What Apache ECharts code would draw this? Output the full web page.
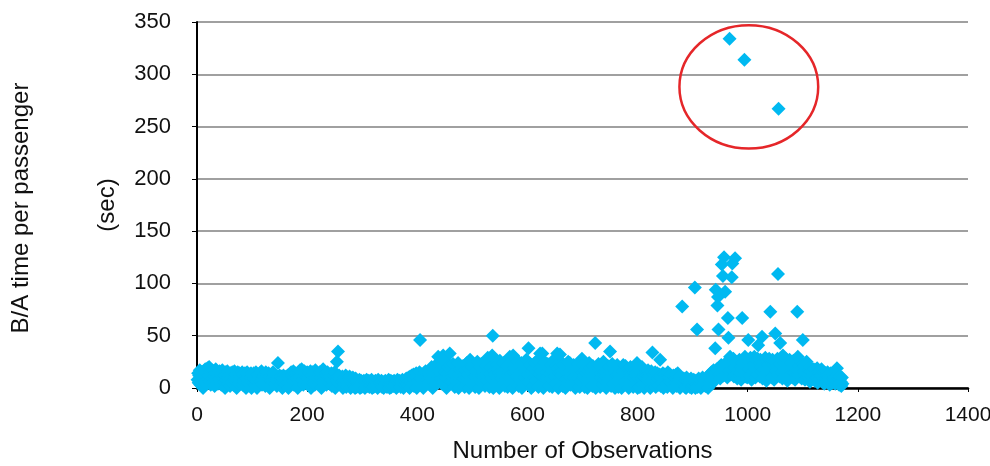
<!DOCTYPE html>
<html>
<head>
<meta charset="utf-8">
<script src="https://cdn.jsdelivr.net/npm/echarts@6/dist/echarts.min.js"></script>
<style>
  html, body { margin: 0; padding: 0; background: #ffffff; }
  #chart { width: 990px; height: 466px; }
</style>
</head>
<body>
<div id="chart"></div>
<script>
// B/A time per passenger (sec), one value per observation, in blocks of 100
const obs0001 = [8,14,5,12,17,3,10,15,7,13,0,16,9,6,18,11,4,14,19,8,
  12,20,6,15,3,13,17,9,5,16,11,2,14,18,7,10,15,4,12,8,
  16,6,13,3,11,17,9,14,5,12,0,15,8,10,16,4,13,7,11,2,
  14,9,5,15,12,3,10,16,6,13,8,0,11,15,4,9,14,7,12,5,
  10,15,3,13,8,6,14,11,0,9,15,5,12,7,13,4,10,14,0,8];
const obs0101 = [12,5,14,9,3,11,15,7,0,13,8,10,4,14,6,12,16,3,9,11,
  5,13,8,2,15,10,6,12,4,14,9,0,11,7,13,3,10,15,6,8,
  12,4,9,11,2,7,24,10,5,12,3,8,11,6,0,9,12,4,7,10,
  3,11,8,5,12,0,9,13,6,10,15,4,12,7,16,3,11,14,8,5,
  13,9,0,15,10,6,17,12,4,18,8,14,3,11,16,7,13,5,10,15];
const obs0201 = [9,4,14,11,6,16,0,12,8,15,5,10,13,3,17,7,11,14,6,9,
  12,4,15,8,10,0,13,16,18,7,11,5,14,9,3,12,15,6,10,13,
  4,11,8,14,2,9,13,6,12,15,0,10,7,25,11,35,5,12,8,10,
  3,9,6,11,0,8,10,4,7,12,1,9,5,10,3,8,11,6,0,9,
  7,4,10,2,6,8,0,9,5,1,7,4,6,2,8,0,5,7,1,6];
const obs0301 = [4,2,7,5,0,6,3,8,2,5,4,7,1,6,3,5,8,0,4,6,
  1,5,3,7,2,6,4,0,8,3,5,2,6,4,7,1,3,5,0,6,
  4,7,2,5,1,6,3,8,4,0,5,7,1,3,6,4,2,7,5,3,
  6,0,4,8,2,5,3,7,4,1,6,3,8,5,0,4,7,3,6,9,
  4,8,2,10,6,0,11,7,5,12,4,9,13,2,8,11,6,14,0,10];
const obs0401 = [7,12,5,15,46,9,3,13,8,11,0,14,6,10,16,4,12,8,13,5,
  10,15,3,12,7,20,9,0,14,11,5,21,8,13,4,15,10,30,6,12,
  16,9,28,13,4,22,31,11,7,15,25,10,0,14,20,8,12,22,33,6,
  13,18,5,11,23,9,14,1,12,21,7,15,10,24,0,13,18,8,11,19,
  6,14,21,9,12,1,17,10,23,24,7,13,18,0,11,27,9,20,12,4];
const obs0501 = [14,8,22,11,1,16,12,6,25,10,15,0,13,20,9,23,5,12,14,8,
  16,11,2,21,13,7,15,29,10,24,1,14,19,9,12,31,50,0,16,11,
  13,20,3,22,10,18,8,14,0,26,12,22,9,16,4,13,24,11,2,15,
  18,9,21,1,12,20,16,30,5,13,25,10,0,31,15,19,8,22,16,4,
  11,26,14,2,20,9,15,13,24,0,17,22,3,16,21,10,14,27,6,13];
const obs0601 = [5,38,15,11,23,22,0,16,13,2,18,10,24,14,7,17,12,26,15,1,
  19,13,33,4,16,11,33,20,0,14,25,3,12,21,15,10,23,7,19,2,
  14,22,9,16,1,18,12,27,11,15,5,21,13,33,19,0,14,21,32,8,
  16,12,24,2,15,22,10,17,0,8,20,14,6,25,11,16,24,3,15,12,
  19,5,14,22,10,21,0,6,16,12,23,9,15,20,1,6,17,13,28,14];
const obs0701 = [10,22,12,1,16,14,20,9,0,17,4,24,11,19,8,12,16,2,21,10,
  17,13,43,0,15,20,11,5,23,12,18,1,14,10,19,3,13,25,7,15,
  11,18,0,14,6,21,12,20,10,35,15,2,13,23,4,11,19,14,0,16,
  12,7,22,13,1,18,5,15,11,19,0,14,16,22,9,13,6,21,12,3,
  15,8,18,0,14,4,20,12,9,19,13,1,15,10,17,3,12,14,24,0];
const obs0801 = [13,10,18,1,12,15,9,20,4,11,14,0,13,10,16,3,12,8,17,11,
  9,14,0,12,16,7,34,11,13,4,10,15,1,12,6,14,9,3,11,13,
  27,2,12,5,10,14,0,9,13,6,11,4,12,1,15,3,10,7,13,9,
  5,11,8,0,12,6,10,4,9,13,2,3,14,8,5,11,0,9,6,4,
  78,7,3,9,5,1,8,0,10,2,6,8,3,7,1,5,9,0,2,6];
const obs0901 = [3,8,5,96,0,7,4,56,1,6,9,3,5,8,0,7,4,10,6,3,
  8,5,2,9,4,7,11,0,6,10,13,5,8,15,4,12,9,17,7,14,
  38,94,11,18,79,87,56,13,20,9,16,22,118,15,107,12,125,19,92,24,
  14,21,10,67,48,17,334,30,13,22,106,119,16,28,11,19,124,25,14,21,
  9,23,17,12,27,15,20,8,18,67,24,13,21,314,30,11,26,19,10,22];
const obs1001 = [46,18,25,12,29,21,8,27,16,23,14,30,19,10,26,22,13,28,41,17,
  24,11,27,20,15,49,9,23,18,26,13,29,21,7,25,16,22,12,28,19,
  73,14,24,10,27,18,22,8,25,52,16,21,13,28,109,267,19,11,43,23,
  15,26,9,31,20,17,24,12,28,14,22,7,19,25,11,27,16,21,13,24,
  10,20,26,15,22,8,18,24,13,73,30,17,21,11,25,14,19,9,23,46];
const obs1101 = [16,12,21,8,18,14,25,22,10,17,13,20,6,15,19,11,16,9,14,18,
  12,7,17,13,10,19,5,15,11,16,8,14,12,18,6,13,10,15,4,11,
  14,9,12,6,15,8,11,13,3,10,14,7,12,5,9,13,8,11,4,10,
  7,19,12,5,9,3,8,11,6,2,10,4];

// Axis ticks
const xTicks = [0, 200, 400, 600, 800, 1000, 1200, 1400];
const yTicks = [0, 50, 100, 150, 200, 250, 300, 350];

// Highlighted region (data units) around the three extreme observations
const highlight = { x: 1002, y: 288, rx: 126, ry: 59 };

const blocks = [obs0001, obs0101, obs0201, obs0301, obs0401, obs0501,
  obs0601, obs0701, obs0801, obs0901, obs1001, obs1101];
const values = [].concat(...blocks);
const points = values.map((v, i) => [i + 1, v]);

const FONT = "'Liberation Sans', Arial, Helvetica, sans-serif";
const chart = echarts.init(document.getElementById('chart'), null, { renderer: 'canvas' });

chart.setOption({
  animation: false,
  backgroundColor: '#ffffff',
  grid: { left: 197, right: 22, top: 22, bottom: 78, containLabel: false, outerBoundsMode: 'none' },
  xAxis: {
    type: 'value',
    min: xTicks[0],
    max: xTicks[xTicks.length - 1],
    interval: xTicks[1] - xTicks[0],
    name: 'Number of Observations',
    nameLocation: 'middle',
    nameGap: 51,
    nameTextStyle: { fontFamily: FONT, fontSize: 24, color: '#111' },
    axisLine: { show: true, onZero: false, lineStyle: { color: '#000', width: 2.5 } },
    axisTick: { show: true, length: 4, lineStyle: { color: '#000', width: 1 } },
    axisLabel: { fontFamily: FONT, fontSize: 21, color: '#111', margin: 17,
      formatter: v => String(v) },
    splitLine: { show: false }
  },
  yAxis: {
    type: 'value',
    min: yTicks[0],
    max: yTicks[yTicks.length - 1],
    interval: yTicks[1] - yTicks[0],
    axisLine: { show: true, lineStyle: { color: '#000', width: 2 } },
    axisTick: { show: true, length: 5, lineStyle: { color: '#000', width: 1 } },
    axisLabel: { fontFamily: FONT, fontSize: 22, color: '#111', margin: 26,
      formatter: v => String(v) },
    splitLine: { show: true, lineStyle: { color: '#808080', width: 1.5 } }
  },
  series: [{
    type: 'scatter',
    data: points,
    symbol: 'diamond',
    symbolSize: 14,
    itemStyle: { color: '#00B9F1', opacity: 1 },
    z: 3
  }]
});

// Axis title (two rotated lines) and the red ring around the extreme points
const c = chart.convertToPixel({ gridIndex: 0 }, [highlight.x, highlight.y]);
const e = chart.convertToPixel({ gridIndex: 0 }, [highlight.x + highlight.rx, highlight.y + highlight.ry]);

chart.setOption({
  graphic: [
    {
      type: 'text', x: 21, y: 208, rotation: Math.PI / 2,
      style: { text: 'B/A time per passenger', fontFamily: FONT, fontSize: 24,
        fill: '#111', align: 'center', verticalAlign: 'middle' }
    },
    {
      type: 'text', x: 107, y: 205, rotation: Math.PI / 2,
      style: { text: '(sec)', fontFamily: FONT, fontSize: 24,
        fill: '#111', align: 'center', verticalAlign: 'middle' }
    },
    {
      type: 'ellipse', z: 10,
      shape: { cx: c[0], cy: c[1], rx: Math.abs(e[0] - c[0]), ry: Math.abs(c[1] - e[1]) },
      style: { fill: 'none', stroke: '#E52629', lineWidth: 2.5 }
    }
  ]
});
</script>
</body>
</html>
